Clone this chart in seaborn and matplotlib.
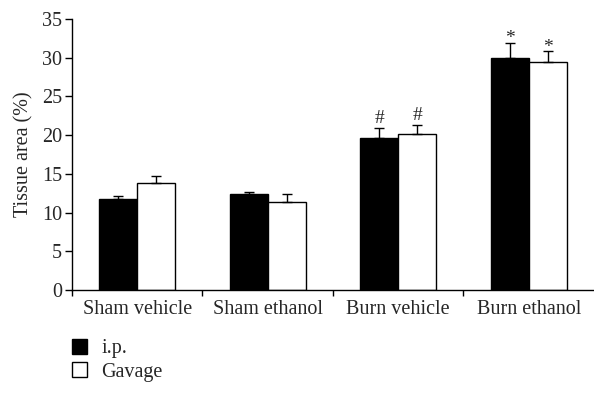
import matplotlib
matplotlib.use("Agg")
import matplotlib.pyplot as plt
import numpy as np
import pandas as pd
import seaborn as sns
from matplotlib.patches import Patch

# Data
groups = ["Sham vehicle", "Sham ethanol", "Burn vehicle", "Burn ethanol"]
routes = ["i.p.", "Gavage"]
ip_mean = [11.75, 12.4, 19.6, 30.0]
ip_err = [0.4, 0.2, 1.3, 1.9]
gavage_mean = [13.75, 11.3, 20.2, 29.4]
gavage_err = [1.0, 1.05, 1.05, 1.4]
ip_marks = ["", "", "#", "*"]
gavage_marks = ["", "", "#", "*"]

df = pd.DataFrame({
    "group": groups * 2,
    "route": [routes[0]] * 4 + [routes[1]] * 4,
    "value": ip_mean + gavage_mean,
    "err": ip_err + gavage_err,
    "mark": ip_marks + gavage_marks,
})

sns.set_style("ticks")
plt.rcParams["font.family"] = ["Liberation Serif", "DejaVu Serif"]
FS = 14.5

fig = plt.figure(figsize=(5.94, 4.07), dpi=100)
ax = fig.add_axes([0.121, 0.2875, 0.879, 0.666])

sns.barplot(data=df, x="group", y="value", hue="route",
            order=groups, hue_order=routes,
            palette={"i.p.": "black", "Gavage": "white"},
            edgecolor="black", linewidth=1.0,
            width=0.58, gap=0, errorbar=None, legend=False, ax=ax)

# error bars (upward only) and significance marks
for container, route in zip(ax.containers, routes):
    sub = df[df.route == route].set_index("group").loc[groups]
    for bar, (_, row) in zip(container, sub.iterrows()):
        xc = bar.get_x() + bar.get_width() / 2
        top = bar.get_height()
        ax.errorbar(xc, top, yerr=[[0], [row.err]], fmt="none",
                    ecolor="black", elinewidth=1.0, capsize=3.5,
                    capthick=1.0)
        if row.mark:
            # the asterisk glyph sits high, pull it down a little
            dy = -3 if row.mark == "*" else 1
            ax.annotate(row.mark, (xc, top + row.err), xytext=(0, dy),
                        textcoords="offset points", ha="center",
                        va="bottom", fontsize=14)

ax.set_xlim(-0.5, 3.5)
ax.set_ylim(0, 35)
ax.set_yticks(np.arange(0, 36, 5))
ax.set_ylabel("Tissue area (%)", fontsize=FS, labelpad=6)
ax.set_xlabel("")
ax.set_xticks(range(4))
ax.set_xticklabels(groups)
ax.set_xticks([-0.5, 0.5, 1.5, 2.5], minor=True)
ax.tick_params(axis="x", which="major", length=0, labelsize=FS, pad=7)
ax.tick_params(axis="x", which="minor", length=4, width=1.0,
               direction="out", color="black")
ax.tick_params(axis="y", length=5, width=1.0, labelsize=FS,
               color="black", pad=2)
for side in ["top", "right"]:
    ax.spines[side].set_visible(False)
for side in ["left", "bottom"]:
    ax.spines[side].set_linewidth(1.0)
    ax.spines[side].set_color("black")

handles = [Patch(facecolor="black", edgecolor="black", label=routes[0]),
           Patch(facecolor="white", edgecolor="black", label=routes[1])]
fig.legend(handles=handles, loc="upper left", bbox_to_anchor=(0.091, 0.212),
           frameon=False, fontsize=FS, handlelength=0.75, handleheight=0.75,
           handletextpad=0.7, labelspacing=0.2)

fig.savefig("out.png", dpi=100)
